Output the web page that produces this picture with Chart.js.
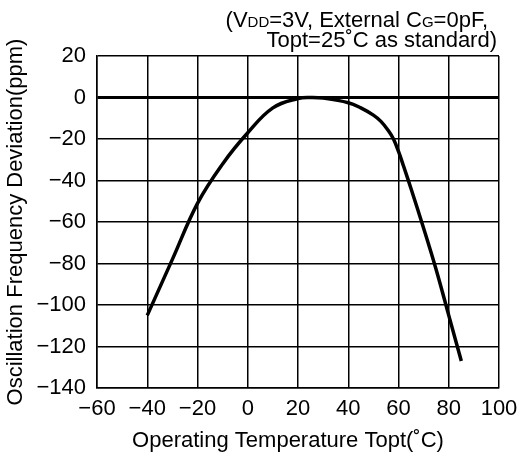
<!DOCTYPE html>
<html>
<head>
<meta charset="utf-8">
<script src="https://cdn.jsdelivr.net/npm/chart.js@4/dist/chart.umd.min.js"></script>
<style>
  html, body { margin: 0; padding: 0; background: #fff; }
  #wrap { width: 518px; height: 457px; }
</style>
</head>
<body>
<div id="wrap"><canvas id="myChart" width="518" height="457"></canvas></div>
<script>
// temperature (°C) and frequency deviation (ppm)
var temps = [-40, -30, -20, -10, 0, 10, 20, 25, 30, 40, 45, 50, 53, 56, 58, 60, 62, 65, 70, 75, 80, 85];
var ppm = [-105, -78, -51, -32, -17, -5, -0.5, 0, -0.3, -2.5, -5, -8.5, -11.5, -16, -20, -26, -33, -44, -63, -83, -105, -127];

var xTicks = [-60, -40, -20, 0, 20, 40, 60, 80, 100];
var yTicks = [20, 0, -20, -40, -60, -80, -100, -120, -140];

var font = "'Liberation Sans', Arial, sans-serif";
var fontSize = 22;

var points = [];
for (var i = 0; i < temps.length; i++) {
    points.push({ x: temps[i], y: ppm[i] });
}

function minus(v) {
    return String(v).replace('-', '\u2212');
}

// condition note above the plot (with small subscripts) and the x axis title
var notePlugin = {
    id: 'note',
    afterDraw: function(chart) {
        var c = chart.ctx;
        var lines = [
            { right: 488, y: 27, parts: [['(V', 22], ['DD', 15], ['=3V, External C', 22], ['G', 15], ['=0pF,', 22]] },
            { right: 497, y: 47, parts: [['Topt=25\u02DAC as standard)', 22]] }
        ];
        c.save();
        c.fillStyle = '#000';
        c.textBaseline = 'alphabetic';
        c.textAlign = 'left';
        lines.forEach(function(l) {
            var w = 0;
            l.parts.forEach(function(p) {
                c.font = p[1] + 'px ' + font;
                w += c.measureText(p[0]).width;
            });
            var x = l.right - w;
            l.parts.forEach(function(p) {
                c.font = p[1] + 'px ' + font;
                c.fillText(p[0], x, l.y);
                x += c.measureText(p[0]).width;
            });
        });

        var area = chart.chartArea;
        c.font = fontSize + 'px ' + font;
        c.textAlign = 'center';
        c.fillText('Operating Temperature Topt(\u02DAC)', (area.left + area.right) / 2 - 10, 447);
        c.restore();
    }
};

var ctx = document.getElementById('myChart').getContext('2d');

var chart = new Chart(ctx, {
    type: 'line',
    data: {
        datasets: [{
            data: points,
            borderColor: '#000',
            borderWidth: 3.5,
            pointRadius: 0,
            fill: false,
            tension: 0.4
        }]
    },
    options: {
        responsive: false,
        animation: false,
        layout: { padding: { top: 56, right: 0, left: 0, bottom: 0 } },
        plugins: {
            legend: { display: false },
            tooltip: { enabled: false }
        },
        scales: {
            x: {
                type: 'linear',
                min: -60,
                max: 100,
                afterBuildTicks: function(scale) {
                    scale.ticks = xTicks.map(function(v) { return { value: v }; });
                },
                afterFit: function(scale) {
                    scale.height = 69;
                    scale.paddingLeft = 0;
                    scale.paddingRight = 19;
                },
                grid: { color: '#000', lineWidth: 1.5, drawTicks: false },
                border: { color: '#000', width: 1.5 },
                ticks: {
                    color: '#000',
                    padding: 8,
                    maxRotation: 0,
                    font: { family: font, size: fontSize },
                    callback: function(v) { return minus(v); }
                }
            },
            y: {
                min: -140,
                max: 20,
                afterBuildTicks: function(scale) {
                    scale.ticks = yTicks.map(function(v) { return { value: v }; });
                },
                afterFit: function(scale) {
                    scale.width = 97;
                },
                grid: {
                    color: '#000',
                    drawTicks: false,
                    lineWidth: function(context) {
                        return context.tick && context.tick.value === 0 ? 3 : 1.5;
                    }
                },
                border: { color: '#000', width: 1.5 },
                ticks: {
                    color: '#000',
                    padding: 11,
                    font: { family: font, size: fontSize },
                    callback: function(v) { return minus(v); }
                },
                title: {
                    display: true,
                    text: 'Oscillation Frequency Deviation(ppm)',
                    color: '#000',
                    padding: { top: 3, bottom: 7 },
                    font: { family: font, size: fontSize }
                }
            }
        }
    },
    plugins: [notePlugin]
});
</script>
</body>
</html>
